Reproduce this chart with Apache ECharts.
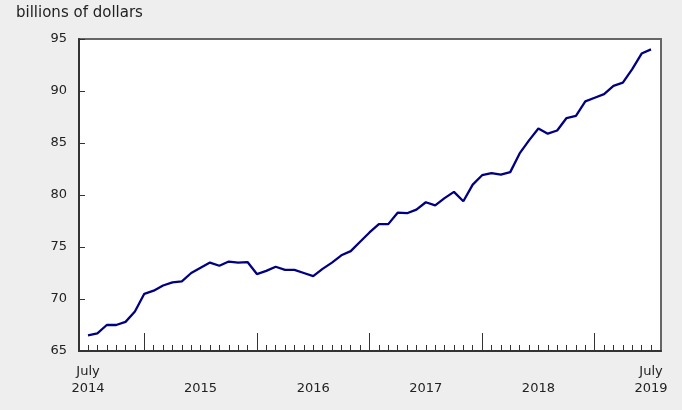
<!DOCTYPE html>
<html>
<head>
<meta charset="utf-8">
<script src="https://cdn.jsdelivr.net/npm/echarts@6/dist/echarts.min.js"></script>
<style>
html,body{margin:0;padding:0;background:#eeeeee;}
#chart{width:682px;height:410px;}
</style>
</head>
<body>
<div id="chart"></div>
<script>
var months = [
 'Jul 2014','Aug 2014','Sep 2014','Oct 2014','Nov 2014','Dec 2014',
 'Jan 2015','Feb 2015','Mar 2015','Apr 2015','May 2015','Jun 2015','Jul 2015','Aug 2015','Sep 2015','Oct 2015','Nov 2015','Dec 2015',
 'Jan 2016','Feb 2016','Mar 2016','Apr 2016','May 2016','Jun 2016','Jul 2016','Aug 2016','Sep 2016','Oct 2016','Nov 2016','Dec 2016',
 'Jan 2017','Feb 2017','Mar 2017','Apr 2017','May 2017','Jun 2017','Jul 2017','Aug 2017','Sep 2017','Oct 2017','Nov 2017','Dec 2017',
 'Jan 2018','Feb 2018','Mar 2018','Apr 2018','May 2018','Jun 2018','Jul 2018','Aug 2018','Sep 2018','Oct 2018','Nov 2018','Dec 2018',
 'Jan 2019','Feb 2019','Mar 2019','Apr 2019','May 2019','Jun 2019','Jul 2019'
];
var values = [
 66.5, 66.7, 67.5, 67.5, 67.8, 68.8,
 70.5, 70.8, 71.3, 71.6, 71.7, 72.5, 73.0, 73.5, 73.2, 73.6, 73.5, 73.55,
 72.4, 72.7, 73.1, 72.8, 72.8, 72.5, 72.2, 72.9, 73.5, 74.2, 74.6, 75.5,
 76.4, 77.2, 77.2, 78.3, 78.25, 78.6, 79.3, 79.0, 79.7, 80.3, 79.4, 81.0,
 81.9, 82.1, 81.95, 82.2, 84.0, 85.25, 86.4, 85.9, 86.2, 87.4, 87.6, 89.0,
 89.35, 89.7, 90.5, 90.8, 92.1, 93.6, 94.0
];
var xTickLabels = {'Jul 2014':'July\n2014','Jul 2015':'\n2015','Jul 2016':'\n2016','Jul 2017':'\n2017','Jul 2018':'\n2018','Jul 2019':'July\n2019'};
var yMin = 65, yMax = 95, yStep = 5;
var unitLabel = 'billions of dollars';

var FONT = 'DejaVu Sans';
var chart = echarts.init(document.getElementById('chart'), null, {renderer:'canvas'});
chart.setOption({
  backgroundColor: '#eeeeee',
  animation: false,
  title: {
    text: unitLabel, left: 11, top: 1,
    textStyle: {fontFamily: FONT, fontSize: 15, fontWeight: 'normal', color: '#222'}
  },
  grid: [
    {left: 79, right: 21, top: 39, bottom: 59, show: true, backgroundColor: '#ffffff', borderColor: '#666666', borderWidth: 2},
    {left: 88, right: 31, top: 39, bottom: 59}
  ],
  xAxis: [
    {gridIndex: 0, type: 'value', min: 0, max: 1, position: 'bottom', axisLine: {show: true, lineStyle: {color: '#333', width: 2}},
     axisTick: {show: false}, axisLabel: {show: false}, splitLine: {show: false}},
    {gridIndex: 1, type: 'category', data: months, boundaryGap: false, position: 'bottom',
     axisLine: {show: false},
     axisTick: {show: true, inside: true, length: 6, interval: 0, lineStyle: {color: '#333', width: 1}},
     axisLabel: {interval: 0, margin: 12, fontFamily: FONT, fontSize: 13, color: '#222', lineHeight: 17,
       formatter: function (v) { return xTickLabels[v] || ''; }},
     splitLine: {show: false}},
    {gridIndex: 1, type: 'category', data: months, boundaryGap: false, position: 'bottom', offset: 0,
     axisLine: {show: false},
     axisTick: {show: true, inside: true, length: 18, lineStyle: {color: '#333', width: 1},
       interval: function (i, v) { return v.indexOf('Jan') === 0; }},
     axisLabel: {show: false}, splitLine: {show: false}}
  ],
  yAxis: [
    {gridIndex: 0, type: 'value', min: yMin, max: yMax, interval: yStep,
     axisLine: {show: true, lineStyle: {color: '#333', width: 2}},
     axisTick: {show: true, inside: true, length: 6, lineStyle: {color: '#333', width: 1}},
     axisLabel: {margin: 12, fontFamily: FONT, fontSize: 13, color: '#222'},
     splitLine: {show: false}},
    {gridIndex: 1, type: 'value', min: yMin, max: yMax, show: false, splitLine: {show: false}}
  ],
  series: [{
    type: 'line', xAxisIndex: 1, yAxisIndex: 1, data: values,
    symbol: 'none', lineStyle: {color: '#000080', width: 2.3}
  }]
});
</script>
</body>
</html>
